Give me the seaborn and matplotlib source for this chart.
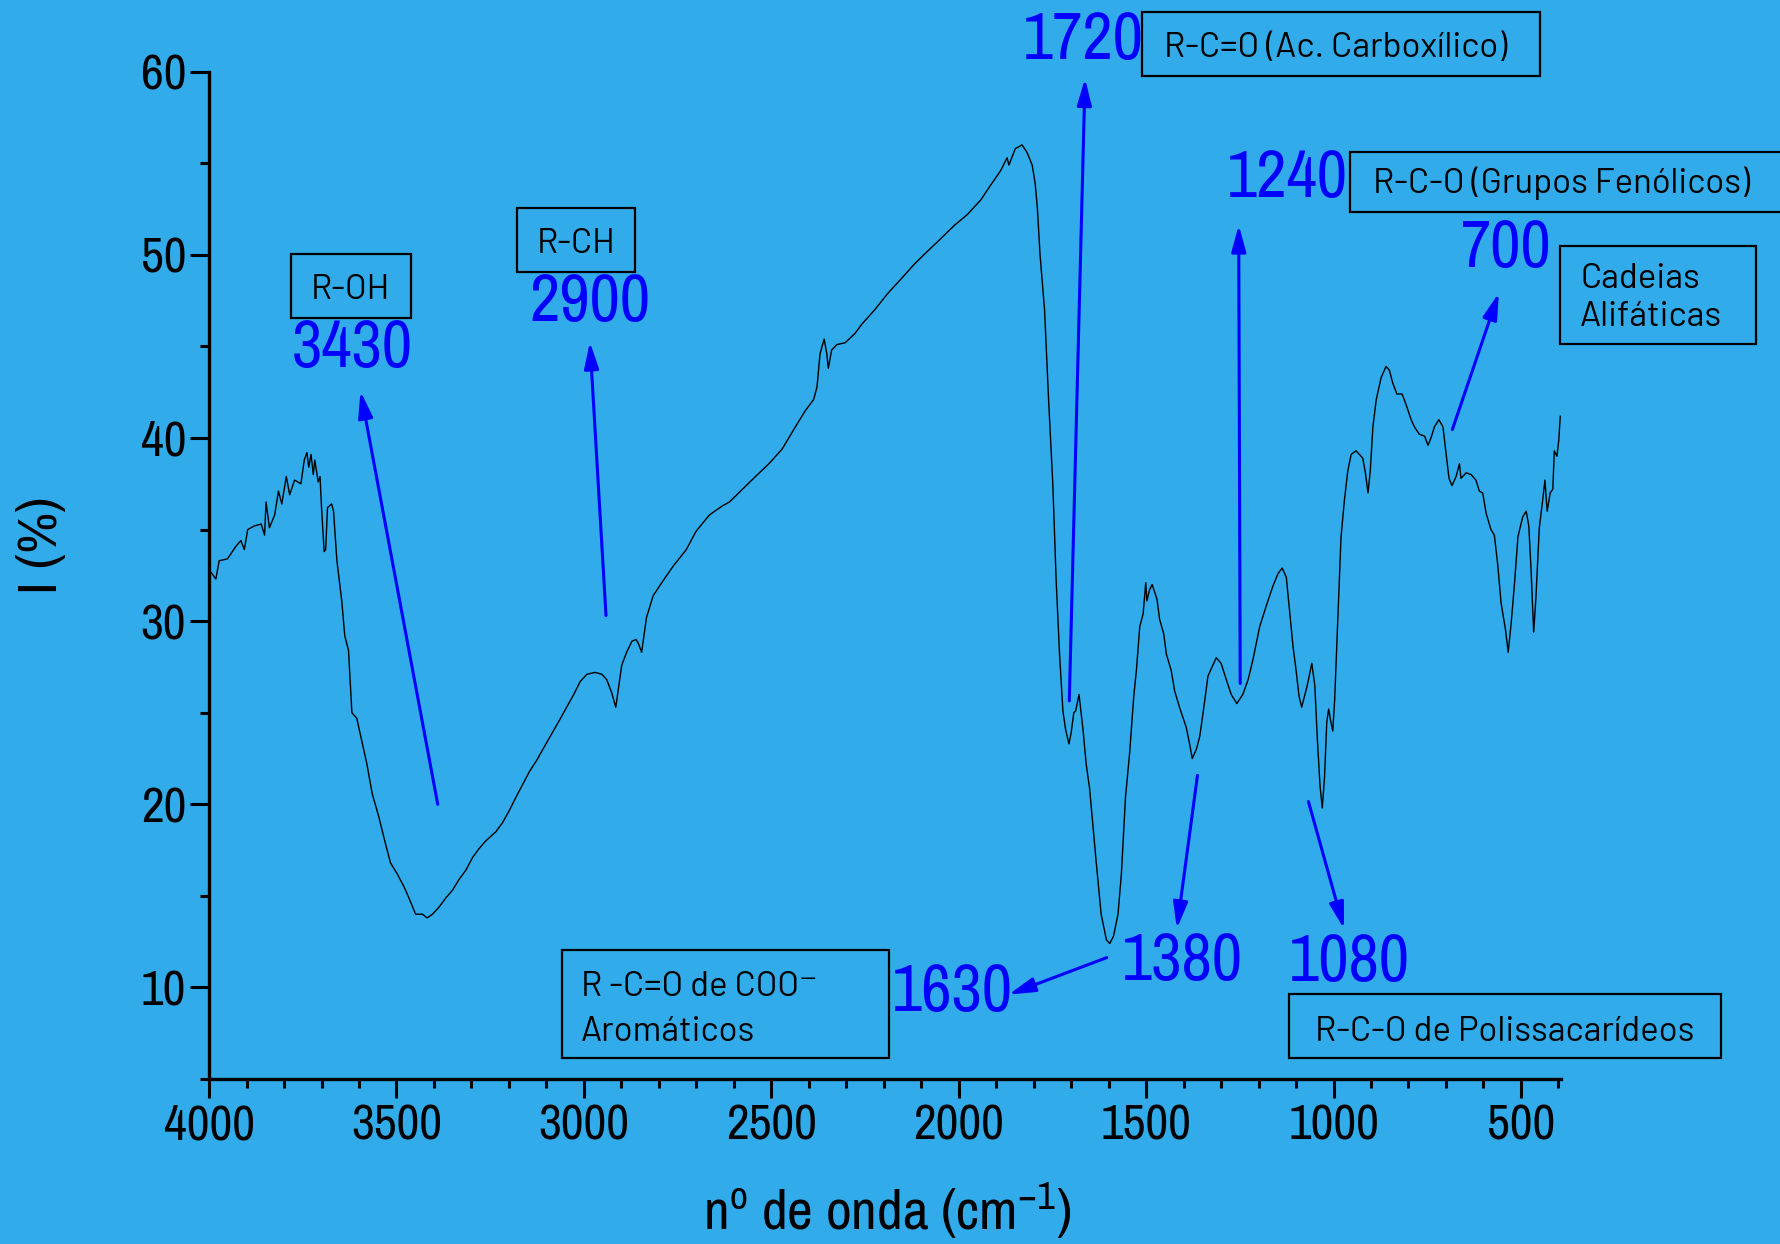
import matplotlib
matplotlib.use("Agg")
import matplotlib.pyplot as plt
from matplotlib import font_manager
from matplotlib.patches import Rectangle
from matplotlib.ticker import MultipleLocator, FixedLocator
import seaborn as sns
import pandas as pd

# ---------------- data ----------------
wavenumber = [4000, 3996, 3982, 3973, 3951, 3928, 3915, 3906, 3897, 3879, 3861, 3852, 3848, 3839,
              3825, 3815, 3806, 3794, 3785, 3772, 3755, 3746, 3739, 3734, 3728, 3722, 3718, 3709,
              3704, 3700, 3693, 3689, 3684, 3673, 3668, 3659, 3646, 3638, 3628, 3619, 3606, 3592,
              3579, 3565, 3547, 3530, 3516, 3498, 3480, 3467, 3449, 3431, 3418, 3404, 3386, 3368,
              3351, 3333, 3315, 3297, 3279, 3262, 3235, 3217, 3198, 3181, 3163, 3145, 3126, 3104,
              3065, 3027, 3010, 2992, 2970, 2952, 2939, 2926, 2915, 2899, 2886, 2872, 2861, 2855,
              2846, 2833, 2815, 2789, 2762, 2727, 2701, 2665, 2630, 2612, 2577, 2542, 2506, 2471,
              2436, 2409, 2387, 2378, 2370, 2359, 2352, 2348, 2339, 2325, 2303, 2277, 2259, 2224,
              2189, 2153, 2118, 2083, 2047, 2012, 1977, 1941, 1915, 1888, 1871, 1866, 1849, 1831,
              1818, 1804, 1796, 1790, 1783, 1771, 1760, 1749, 1740, 1731, 1722, 1715, 1706, 1700,
              1693, 1688, 1679, 1668, 1660, 1651, 1644, 1633, 1620, 1606, 1597, 1587, 1575, 1566,
              1555, 1544, 1533, 1526, 1517, 1508, 1501, 1498, 1491, 1484, 1471, 1464, 1453, 1446,
              1433, 1424, 1411, 1393, 1384, 1377, 1366, 1357, 1348, 1335, 1324, 1313, 1300, 1286,
              1273, 1258, 1242, 1228, 1215, 1197, 1180, 1162, 1148, 1137, 1126, 1117, 1108, 1101,
              1092, 1085, 1070, 1058, 1050, 1043, 1036, 1030, 1024, 1018, 1013, 1008, 1002, 997,
              988, 980, 971, 962, 953, 940, 931, 922, 915, 908, 902, 895, 886, 873, 860, 851, 842,
              831, 817, 806, 793, 784, 771, 757, 748, 740, 731, 719, 708, 700, 692, 684, 673, 664,
              660, 646, 633, 620, 611, 602, 593, 580, 571, 562, 553, 541, 534, 526, 517, 508, 500,
              495, 486, 479, 473, 466, 460, 451, 442, 436, 430, 422, 415, 411, 404, 399, 395]
intensity = [32.6, 32.7, 32.3, 33.3, 33.4, 34.1, 34.4, 33.9, 35.0, 35.2, 35.3, 34.7, 36.5, 35.1,
             35.8, 37.1, 36.4, 37.9, 36.9, 37.7, 37.5, 38.8, 39.2, 38.4, 39.1, 38.0, 38.8, 37.6,
             37.9, 36.2, 33.8, 33.9, 36.2, 36.4, 36.0, 33.3, 31.1, 29.2, 28.4, 25.0, 24.7, 23.4,
             22.2, 20.6, 19.3, 17.9, 16.8, 16.2, 15.5, 14.9, 14.0, 14.0, 13.8, 14.0, 14.4, 14.9,
             15.3, 15.9, 16.4, 17.1, 17.6, 18.0, 18.5, 19.0, 19.7, 20.4, 21.1, 21.8, 22.4, 23.2,
             24.6, 26.0, 26.7, 27.1, 27.2, 27.1, 26.8, 26.1, 25.3, 27.6, 28.3, 28.9, 29.0, 28.8,
             28.3, 30.2, 31.4, 32.2, 33.0, 33.9, 34.9, 35.8, 36.3, 36.5, 37.2, 37.9, 38.6, 39.4,
             40.6, 41.5, 42.1, 42.8, 44.6, 45.4, 44.6, 43.8, 44.8, 45.1, 45.2, 45.7, 46.2, 47.0,
             47.9, 48.7, 49.5, 50.2, 50.9, 51.6, 52.2, 53.0, 53.8, 54.6, 55.3, 54.9, 55.8, 56.0,
             55.6, 54.9, 53.9, 52.5, 50.0, 47.0, 42.0, 37.5, 32.2, 28.2, 25.1, 24.1, 23.3, 23.9,
             25.0, 25.1, 26.0, 24.0, 22.2, 20.9, 19.3, 16.8, 14.0, 12.6, 12.4, 12.8, 14.0, 16.2,
             20.4, 22.8, 25.9, 27.3, 29.7, 30.4, 32.1, 31.1, 31.7, 32.0, 31.2, 30.1, 29.3, 28.2,
             27.3, 26.2, 25.3, 24.2, 23.3, 22.5, 23.0, 23.7, 25.0, 27.0, 27.5, 28.0, 27.7, 26.8,
             26.0, 25.5, 26.0, 26.8, 27.9, 29.7, 30.8, 31.9, 32.6, 32.9, 32.4, 30.5, 28.6, 27.5,
             25.9, 25.3, 26.5, 27.7, 26.5, 23.5, 21.0, 19.8, 21.5, 24.5, 25.2, 24.6, 24.0, 25.7,
             30.4, 34.6, 36.6, 38.2, 39.1, 39.3, 39.1, 38.9, 38.1, 37.0, 38.2, 40.6, 42.1, 43.3,
             43.9, 43.7, 43.0, 42.4, 42.4, 41.8, 41.0, 40.6, 40.2, 40.1, 39.6, 40.0, 40.6, 41.0,
             40.6, 39.2, 37.8, 37.4, 37.9, 38.6, 37.8, 38.1, 38.0, 37.7, 37.1, 37.0, 35.9, 35.0,
             34.7, 33.1, 31.0, 29.5, 28.3, 29.9, 32.1, 34.6, 35.3, 35.7, 36.0, 35.2, 32.8, 29.4,
             31.3, 35.1, 36.6, 37.7, 36.0, 37.0, 37.2, 39.3, 39.0, 39.9, 41.2]

x_ticks = [4000, 3500, 3000, 2500, 2000, 1500, 1000, 500]
y_ticks = [10, 20, 30, 40, 50, 60]

peak_labels = ["3430", "2900", "1720", "1240", "700", "1630", "1380", "1080"]
group_labels = ["R-OH", "R-CH", "R-C=O (Ac. Carboxílico)", "R-C-O (Grupos Fenólicos)",
                "Cadeias\nAlifáticas", "R -C=O de COO\u207b\nAromáticos",
                "R-C-O de Polissacarídeos"]

# ---------------- style ----------------
BG = "#31ABEA"
BLUE = "#0000FF"
sns.set_style("ticks")
names = {f.name for f in font_manager.fontManager.ttflist}


def pick(prefs):
    for p in prefs:
        if p in names:
            return p
    return "DejaVu Sans"


NARROW = pick(["Liberation Sans Narrow", "Arial Narrow", "Pragati Narrow", "Roboto Condensed",
               "Archivo Narrow", "PT Sans Narrow", "IBM Plex Sans Condensed", "Liberation Sans"])
BOXF = pick(["Barlow", "Barlow Semi Condensed", "Liberation Sans"])
plt.rcParams["font.family"] = [NARROW, "DejaVu Sans"]
plt.rcParams["mathtext.fontset"] = "custom"
plt.rcParams["mathtext.rm"] = NARROW
plt.rcParams["mathtext.it"] = NARROW
plt.rcParams["mathtext.bf"] = NARROW
plt.rcParams["text.color"] = "black"
plt.rcParams["xtick.color"] = "black"
plt.rcParams["ytick.color"] = "black"
plt.rcParams["xtick.labelcolor"] = "black"
plt.rcParams["ytick.labelcolor"] = "black"
BOXFONT = [BOXF, "DejaVu Sans"]

fig = plt.figure(figsize=(17.81, 12.44), dpi=100, facecolor=BG)
ax = fig.add_axes([0.1174, 0.1326, 0.7591, 0.8098])
ax.set_facecolor(BG)

df = pd.DataFrame({"wavenumber": wavenumber, "intensity": intensity})
sns.lineplot(data=df, x="wavenumber", y="intensity", ax=ax, color="black",
             linewidth=1.0, estimator=None, sort=False)

ax.set_xlim(4000, 393)
ax.set_ylim(5, 60)
ax.xaxis.set_major_locator(FixedLocator(x_ticks))
ax.xaxis.set_minor_locator(MultipleLocator(100))
ax.yaxis.set_major_locator(FixedLocator(y_ticks))
ax.yaxis.set_minor_locator(MultipleLocator(5))
ax.set_xticklabels([str(t) for t in x_ticks])
ax.set_yticklabels([str(t) for t in y_ticks])
ax.set_xlabel("")
ax.set_ylabel("")

for s in ("top", "right"):
    ax.spines[s].set_visible(False)
for s in ("left", "bottom"):
    ax.spines[s].set_linewidth(2.4)
    ax.spines[s].set_color("black")
ax.tick_params(which="major", length=13.5, width=2.2, color="black", labelcolor="black",
               labelsize=39, pad=4, direction="out")
ax.tick_params(which="minor", length=6.5, width=2.2, color="black", direction="out")
ax.tick_params(axis="y", which="major", pad=3)

fig.text(887 / 1781, 1 - 1230 / 1244, r"n$^{\mathrm{o}}$ de onda (cm$^{\mathrm{-1}}$)",
         ha="center", va="baseline", fontsize=44, color="black")
fig.text(57 / 1781, 1 - 545 / 1244, "I (%)", rotation=90, rotation_mode="anchor",
         ha="center", va="baseline", fontsize=44, color="black")

# ---------------- annotation layout ----------------
# blue peak numbers: (x centre, baseline y)
peak_pos = [(3617, 43.89), (2984, 46.39), (1669, 60.67), (1123, 53.15),
            (539, 49.33), (2016, 8.71), (1403, 10.39), (958, 10.33)]
for lab, (px, py) in zip(peak_labels, peak_pos):
    ax.text(px, py, lab, color=BLUE, fontsize=52, ha="center", va="baseline",
            clip_on=False)

# arrows: (tail, head)
arrows = [((3390, 20.0), (3596, 42.55)),
          ((2941, 30.3), (2984, 45.24)),
          ((1705, 25.65), (1663, 59.62)),
          ((1249, 26.6), (1253, 51.62)),
          ((683, 40.46), (559, 47.92)),
          ((1605, 11.63), (1867, 9.61)),
          ((1363, 21.58), (1418, 13.21)),
          ((1067, 20.15), (972, 13.2))]
for tail, head in arrows:
    ax.annotate("", xy=head, xytext=tail, annotation_clip=False,
                arrowprops=dict(arrowstyle="-|>,head_length=0.8,head_width=0.22",
                                mutation_scale=20, color=BLUE, lw=2.2,
                                shrinkA=0, shrinkB=0))

# framed boxes: (x_left, x_right, y_bottom, y_top)
boxes = [(3782, 3460, 46.56, 50.07),
         (3179, 2864, 49.07, 52.58),
         (1510, 448, 59.77, 63.28),
         (956, -300, 52.35, 55.61),
         (396, -127, 45.14, 50.49),
         (3058, 2187, 6.13, 12.03),
         (1120, -33, 6.13, 9.66)]
for (x0, x1, y0, y1) in boxes:
    ax.add_patch(Rectangle((min(x0, x1), y0), abs(x1 - x0), y1 - y0, fill=False,
                           edgecolor="black", lw=1.6, clip_on=False))

# box texts: list of (x, baseline y, ha) per line
text_pos = [[(3622, 47.61, "center")],
            [(3021, 50.10, "center")],
            [(1453, 60.82, "left")],
            [(895, 53.35, "left")],
            [(342, 48.19, "left"), (342, 46.10, "left")],
            [(3007, 9.56, "left"), (3007, 7.10, "left")],
            [(543, 7.10, "center")]]
for lab, poss in zip(group_labels, text_pos):
    for line, (tx, ty, ha) in zip(lab.split("\n"), poss):
        ax.text(tx, ty, line, fontsize=25, family=BOXFONT, color="black",
                ha=ha, va="baseline", clip_on=False)

fig.savefig("out.png", dpi=100, facecolor=BG)
